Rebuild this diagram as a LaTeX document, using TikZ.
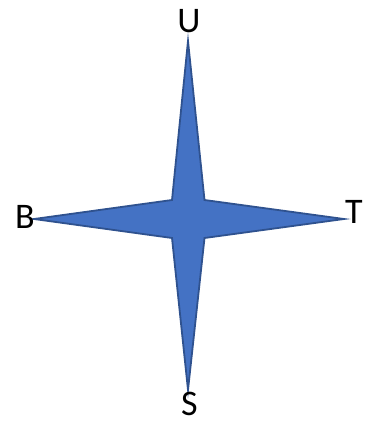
\documentclass[tikz,border=0pt]{standalone}
\usepackage{fontspec}
\setmainfont{Carlito}
\definecolor{starfill}{HTML}{4472C4}
\definecolor{starline}{HTML}{2F528F}
\begin{document}
\begin{tikzpicture}[x=1pt,y=-1pt,
  lbl/.style={font=\fontsize{36}{40}\selectfont, anchor=base, inner sep=0pt, text=black},
  star/.style={fill=starfill, draw=starline, line width=1.8pt, line join=miter}]
\useasboundingbox (0,0) rectangle (368,422);
\coordinate (top) at (188,41);
\coordinate (bot) at (188,390);
\coordinate (lft) at (34,219);
\coordinate (rgt) at (344,219);
\coordinate (i1) at (172,200);
\coordinate (i2) at (204.5,200);
\coordinate (i3) at (204.5,238);
\coordinate (i4) at (172,238);
\draw[star] (top) -- (i2) -- (rgt) -- (i3) -- (bot) -- (i4) -- (lft) -- (i1) -- cycle;
\node[lbl] (U) at (189,33) {U};
\node[lbl] (B) at (25,228) {B};
\node[lbl] (T) at (354,223) {T};
\node[lbl] (S) at (189.5,415) {S};
\end{tikzpicture}
\end{document}
